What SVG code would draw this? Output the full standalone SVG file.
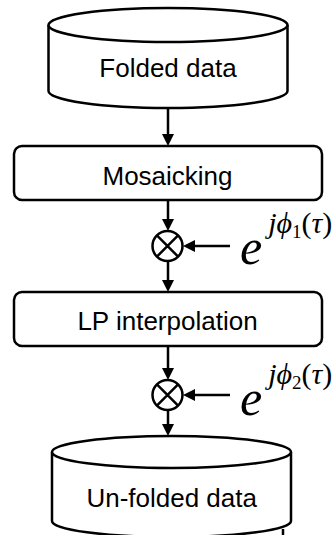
<svg xmlns="http://www.w3.org/2000/svg" width="335" height="535" viewBox="0 0 335 535">
<style>
.s{fill:#fff;stroke:#000;stroke-width:2.5}
.l{fill:none;stroke:#000;stroke-width:2.5}
.h{fill:#000;stroke:none}
.t{font-family:"Liberation Sans",Arial,sans-serif;font-size:26px;fill:#000;text-anchor:middle}
.m{font-family:"Liberation Serif","DejaVu Serif",serif;fill:#000}
</style>
<rect width="335" height="535" fill="#fff"/>
<g id="folded">
<path class="s" d="M48.5,25 V91 A119.5,17 0 0,0 287.5,91 V25"/>
<ellipse class="s" cx="168" cy="25" rx="119.5" ry="17"/>
<text class="t" x="168" y="77">Folded data</text>
</g>
<g id="mosaicking">
<rect class="s" x="14" y="146" width="308" height="54" rx="8"/>
<text class="t" x="167.5" y="185">Mosaicking</text>
</g>
<g id="mult1">
<circle class="s" cx="167.5" cy="246" r="15"/>
<path class="l" d="M156.9,235.4 L178.1,256.6 M178.1,235.4 L156.9,256.6"/>
</g>
<g id="phase1">
<text class="m" x="240" y="264"><tspan font-style="italic" font-size="50">e</tspan><tspan font-style="italic" font-size="30" dx="6" dy="-31">jϕ</tspan><tspan font-size="19" dy="5">1</tspan><tspan font-size="30" dy="-5">(</tspan><tspan font-style="italic" font-size="30">τ</tspan><tspan font-size="30">)</tspan></text>
</g>
<g id="lp">
<rect class="s" x="14" y="292" width="308" height="54" rx="8"/>
<text class="t" x="167.5" y="330">LP interpolation</text>
</g>
<g id="mult2">
<circle class="s" cx="167.5" cy="395" r="15"/>
<path class="l" d="M156.9,384.4 L178.1,405.6 M178.1,384.4 L156.9,405.6"/>
</g>
<g id="phase2">
<text class="m" x="240" y="415"><tspan font-style="italic" font-size="50">e</tspan><tspan font-style="italic" font-size="30" dx="6" dy="-31">jϕ</tspan><tspan font-size="19" dy="5">2</tspan><tspan font-size="30" dy="-5">(</tspan><tspan font-style="italic" font-size="30">τ</tspan><tspan font-size="30">)</tspan></text>
</g>
<g id="unfolded">
<path class="s" d="M52,452 V521 A119.5,16 0 0,0 291,521 V452"/>
<ellipse class="s" cx="171.5" cy="452" rx="119.5" ry="16"/>
<text class="t" x="171.7" y="507">Un-folded data</text>
<line class="l" x1="283" y1="529" x2="283" y2="535" stroke-width="2"/>
</g>
<g id="connectors">
<line class="l" x1="168" y1="108" x2="168" y2="135"/>
<polygon class="h" points="162,134 174,134 168,146"/>
<line class="l" x1="168" y1="200" x2="168" y2="220"/>
<polygon class="h" points="162,219 174,219 168,231"/>
<line class="l" x1="168" y1="261" x2="168" y2="281"/>
<polygon class="h" points="162,280 174,280 168,292"/>
<line class="l" x1="168" y1="346" x2="168" y2="369"/>
<polygon class="h" points="162,368 174,368 168,380"/>
<line class="l" x1="168" y1="410" x2="168" y2="425"/>
<polygon class="h" points="162,424 174,424 168,436"/>
<line class="l" x1="230" y1="246" x2="194" y2="246"/>
<polygon class="h" points="195,240 195,252 183,246"/>
<line class="l" x1="230" y1="395" x2="194" y2="395"/>
<polygon class="h" points="195,389 195,401 183,395"/>
</g>
</svg>
